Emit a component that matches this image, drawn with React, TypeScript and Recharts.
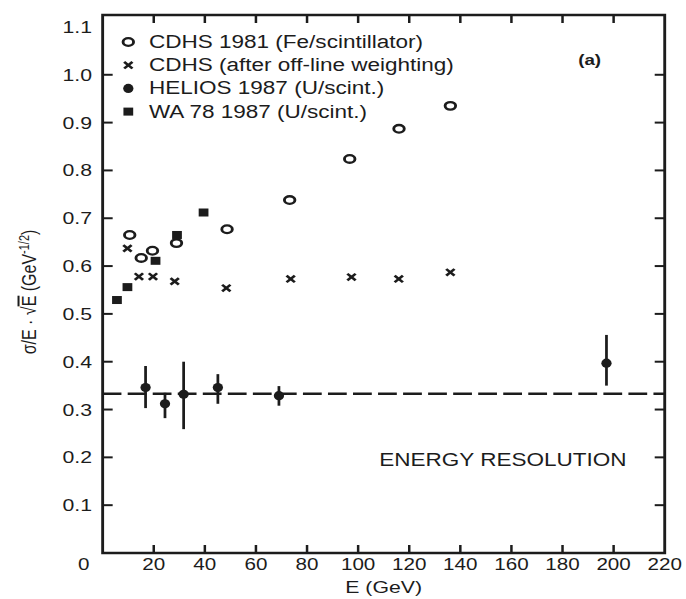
import React from 'react';
import { ScatterChart, Scatter, XAxis, YAxis, ReferenceLine, ReferenceArea, ErrorBar } from 'recharts';

// the reference is stretched horizontally, so the chart is drawn narrower and scaled in x
const STRETCH = 686 / 548;
const W = 548;
const H = 599;
const PL = 82;
const PR = 531;
const PT = 15;
const PB = 553;
const INK = '#1c1c1c';
const FONT = '"Liberation Sans", Arial, Helvetica, sans-serif';

const X_TICKS = [0, 20, 40, 60, 80, 100, 120, 140, 160, 180, 200, 220];
const Y_TICKS = [0.1, 0.2, 0.3, 0.4, 0.5, 0.6, 0.7, 0.8, 0.9, 1.0, 1.1];

const CDHS_E = [10.6, 15.1, 19.5, 28.9, 48.7, 73.2, 96.7, 116.0, 136.1];
const CDHS_RES = [0.665, 0.617, 0.632, 0.648, 0.677, 0.738, 0.824, 0.887, 0.935];

const WEIGHTED_E = [9.7, 14.2, 19.7, 28.2, 48.4, 73.6, 97.4, 115.9, 136.1];
const WEIGHTED_RES = [0.637, 0.578, 0.578, 0.568, 0.554, 0.573, 0.577, 0.573, 0.587];

const WA78_E = [5.6, 9.7, 20.7, 29.1, 39.5];
const WA78_RES = [0.529, 0.556, 0.611, 0.665, 0.712];

const HELIOS_E = [16.8, 24.4, 31.7, 45.1, 69.0, 197.2];
const HELIOS_RES = [0.346, 0.312, 0.332, 0.346, 0.329, 0.397];
const HELIOS_LOW = [0.303, 0.282, 0.259, 0.312, 0.308, 0.35];
const HELIOS_HIGH = [0.391, 0.335, 0.4, 0.374, 0.349, 0.456];

const ENERGY_RESOLUTION = 0.333;

const toPoints = (xs: number[], ys: number[]) => xs.map((x, i) => ({ x, y: ys[i] }));
const cdhs = toPoints(CDHS_E, CDHS_RES);
const weighted = toPoints(WEIGHTED_E, WEIGHTED_RES);
const wa78 = toPoints(WA78_E, WA78_RES);
const helios = HELIOS_E.map((x, i) => ({
    x,
    y: HELIOS_RES[i],
    err: [HELIOS_RES[i] - HELIOS_LOW[i], HELIOS_HIGH[i] - HELIOS_RES[i]],
}));

const OpenCircle = ({ cx, cy }: any) => (
    <ellipse cx={cx} cy={cy} rx={4.2} ry={3.8} fill="#fff" stroke={INK} strokeWidth={2.3} />
);
const Cross = ({ cx, cy }: any) => (
    <g stroke={INK} strokeWidth={2.3}>
        <line x1={cx - 3.3} y1={cy - 3.3} x2={cx + 3.3} y2={cy + 3.3} />
        <line x1={cx - 3.3} y1={cy + 3.3} x2={cx + 3.3} y2={cy - 3.3} />
    </g>
);
const FilledSquare = ({ cx, cy }: any) => <rect x={cx - 3.9} y={cy - 4} width={7.8} height={8} fill={INK} />;
const FilledCircle = ({ cx, cy }: any) => <ellipse cx={cx} cy={cy} rx={4.1} ry={4.6} fill={INK} />;

const XTick = ({ x, payload }: any) => {
    const v = payload.value;
    const inner = v !== 0 && v !== 220;
    return (
        <g>
            {inner && <line x1={x} x2={x} y1={PB} y2={PB - 8} stroke={INK} strokeWidth={2} />}
            {inner && <line x1={x} x2={x} y1={PT} y2={PT + 8} stroke={INK} strokeWidth={2} />}
            <text x={v === 0 ? x - 15 : x} y={570} textAnchor="middle" fontSize={16.5} fill={INK} fontFamily={FONT}>
                {v}
            </text>
        </g>
    );
};

const YTick = ({ y, payload }: any) => {
    const v = payload.value;
    const inner = v < 1.05;
    return (
        <g>
            {inner && <line x1={PL} x2={PL + 8} y1={y} y2={y} stroke={INK} strokeWidth={2} />}
            {inner && <line x1={PR} x2={PR - 8} y1={y} y2={y} stroke={INK} strokeWidth={2} />}
            <text x={73.5} y={y} dy={6} textAnchor="end" fontSize={17} fill={INK} fontFamily={FONT}>
                {v.toFixed(1)}
            </text>
        </g>
    );
};

const LEGEND = [
    { label: 'CDHS 1981 (Fe/scintillator)', Shape: OpenCircle },
    { label: 'CDHS (after off-line weighting)', Shape: Cross },
    { label: 'HELIOS 1987 (U/scint.)', Shape: FilledCircle },
    { label: 'WA 78 1987 (U/scint.)', Shape: FilledSquare },
];

export default function App() {
    return (
        <div style={{ width: 686, height: H, overflow: 'hidden', background: '#fff' }}>
            <style>{'body{margin:0;background:#fff}'}</style>
            <div
                style={{
                    position: 'relative',
                    width: W,
                    height: H,
                    transform: `scaleX(${STRETCH})`,
                    transformOrigin: '0 0',
                    fontFamily: FONT,
                }}
            >
                <ScatterChart width={W} height={H} margin={{ top: PT, right: W - PR, bottom: 0, left: 0 }}>
                    <XAxis
                        type="number"
                        dataKey="x"
                        domain={[0, 220]}
                        ticks={X_TICKS}
                        interval={0}
                        height={H - PB}
                        axisLine={false}
                        tickLine={false}
                        tick={<XTick />}
                    />
                    <YAxis
                        type="number"
                        dataKey="y"
                        domain={[0, 1.125]}
                        ticks={Y_TICKS}
                        interval={0}
                        width={PL}
                        axisLine={false}
                        tickLine={false}
                        tick={<YTick />}
                    />
                    <ReferenceLine
                        y={ENERGY_RESOLUTION}
                        stroke={INK}
                        strokeWidth={2.4}
                        strokeDasharray="15 5"
                    />
                    <ReferenceArea x1={0} x2={220} y1={0} y2={1.125} fill="none" stroke={INK} strokeWidth={2.3} />
                    <Scatter data={cdhs} shape={<OpenCircle />} isAnimationActive={false} />
                    <Scatter data={weighted} shape={<Cross />} isAnimationActive={false} />
                    <Scatter data={wa78} shape={<FilledSquare />} isAnimationActive={false} />
                    <Scatter data={helios} shape={<FilledCircle />} isAnimationActive={false}>
                        <ErrorBar dataKey="err" direction="y" width={0} stroke={INK} strokeWidth={2.2} />
                    </Scatter>
                </ScatterChart>
                <svg
                    width={W}
                    height={H}
                    style={{ position: 'absolute', left: 0, top: 0, pointerEvents: 'none' }}
                    fontFamily={FONT}
                    fill={INK}
                >
                    {LEGEND.map(({ label, Shape }, i) => {
                        const cy = 42 + i * 23.2;
                        return (
                            <g key={label}>
                                <Shape cx={102.5} cy={cy} />
                                <text x={119} y={cy + 6} fontSize={18}>
                                    {label}
                                </text>
                            </g>
                        );
                    })}
                    <text x={471} y={65} textAnchor="middle" fontSize={15} fontWeight="bold">
                        (a)
                    </text>
                    <text x={303} y={466} fontSize={18}>
                        ENERGY RESOLUTION
                    </text>
                    <text x={(PL + PR) / 2} y={593} textAnchor="middle" fontSize={17}>
                        E (GeV)
                    </text>
                    <text transform="translate(29,292) rotate(-90)" textAnchor="middle" fontSize={16}>
                        σ/E · √<tspan textDecoration="overline">E</tspan> (GeV
                        <tspan fontSize={11} dy={-6}>-1/2</tspan>
                        <tspan dy={6}>)</tspan>
                    </text>
                </svg>
            </div>
        </div>
    );
}
